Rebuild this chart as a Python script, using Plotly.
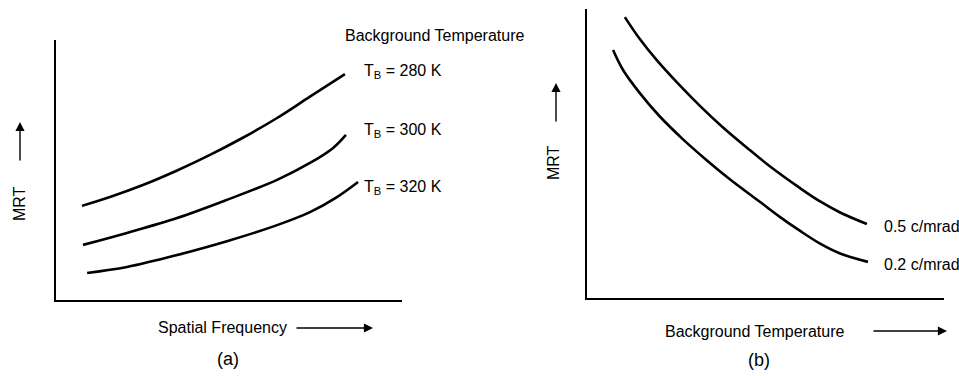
import plotly.graph_objects as go

W, H = 959, 376

# ---------------- data (arbitrary units 0-100) ----------------
# Panel (a): MRT vs spatial frequency for three background temperatures
freq_280 = [7.5, 15.6, 25.1, 35.0, 44.5, 54.0, 63.9, 73.4, 83.5]
mrt_280 = [36.2, 39.6, 44.2, 49.8, 55.8, 62.4, 70.0, 78.2, 86.9]
freq_300 = [7.8, 20.5, 35.0, 49.4, 63.9, 73.4, 80.1, 83.8]
mrt_300 = [21.2, 25.8, 31.5, 38.5, 46.2, 52.7, 58.5, 63.5]
freq_320 = [9.0, 20.5, 35.0, 49.4, 63.9, 73.4, 81.2, 87.3]
mrt_320 = [10.4, 12.7, 17.3, 22.6, 28.8, 33.8, 39.6, 45.4]
series_a_labels = ["T<sub>B</sub> = 280 K", "T<sub>B</sub> = 300 K", "T<sub>B</sub> = 320 K"]

# Panel (b): MRT vs background temperature for two spatial frequencies
temp_05 = [10.6, 14.8, 19.6, 25.2, 31.7, 38.1, 44.8, 51.3, 59.7, 65.3, 70.9, 78.4]
mrt_05 = [97.2, 89.6, 82.2, 74.6, 66.4, 59.0, 52.0, 45.5, 38.0, 33.4, 29.6, 25.6]
temp_02 = [7.3, 10.1, 14.8, 20.4, 26.9, 33.6, 40.1, 48.5, 54.1, 59.7, 65.3, 70.9, 78.7]
mrt_02 = [85.8, 78.9, 70.9, 62.8, 54.9, 47.6, 41.0, 33.2, 28.0, 23.2, 18.8, 15.4, 12.5]
series_b_labels = ["0.5 c/mrad", "0.2 c/mrad"]

FONT = "Liberation Sans, Arial, Helvetica, sans-serif"


def px(x):
    return x / W


def py(y):
    return 1 - y / H


fig = go.Figure()

line_style = dict(color="black", width=2.6, shape="spline", smoothing=1.0)
for xs, ys, name in [(freq_280, mrt_280, series_a_labels[0]),
                     (freq_300, mrt_300, series_a_labels[1]),
                     (freq_320, mrt_320, series_a_labels[2])]:
    fig.add_trace(go.Scatter(x=xs, y=ys, mode="lines", line=line_style,
                             name=name, showlegend=False, hoverinfo="skip",
                             xaxis="x", yaxis="y"))
for xs, ys, name in [(temp_05, mrt_05, series_b_labels[0]),
                     (temp_02, mrt_02, series_b_labels[1])]:
    fig.add_trace(go.Scatter(x=xs, y=ys, mode="lines", line=line_style,
                             name=name, showlegend=False, hoverinfo="skip",
                             xaxis="x2", yaxis="y2"))

axis_common = dict(showline=True, linecolor="black", linewidth=2, showgrid=False,
                   zeroline=False, showticklabels=False, ticks="", fixedrange=True)

fig.update_layout(
    width=W, height=H,
    margin=dict(l=0, r=0, t=0, b=0),
    paper_bgcolor="white", plot_bgcolor="white",
    font=dict(family=FONT, size=16, color="black"),
    xaxis=dict(domain=[px(56), px(402)], range=[0, 100], anchor="y", **axis_common),
    yaxis=dict(domain=[py(300), py(40)], range=[0, 100], anchor="x", **axis_common),
    xaxis2=dict(domain=[px(587), px(944)], range=[0, 100], anchor="y2", **axis_common),
    yaxis2=dict(domain=[py(298), py(9)], range=[0, 100], anchor="x2", **axis_common),
)

ann = []


def text(t, x, y, xanchor="left", size=16, angle=0):
    ann.append(dict(text=t, x=px(x), y=py(y), xref="paper", yref="paper",
                    xanchor=xanchor, yanchor="middle", showarrow=False,
                    textangle=angle, font=dict(size=size, family=FONT, color="black")))


def arrow(hx, hy, tx, ty):
    ann.append(dict(text="", x=px(hx), y=py(hy), xref="paper", yref="paper",
                    ax=tx - hx, ay=ty - hy, axref="pixel", ayref="pixel",
                    showarrow=True, arrowhead=2, arrowsize=1.3, arrowwidth=1.4,
                    arrowcolor="black", standoff=0, startstandoff=0))


# Panel (a)
text("Background Temperature", 343, 36)
text(series_a_labels[0], 362, 72)
text(series_a_labels[1], 362, 130)
text(series_a_labels[2], 362, 187)
text("MRT", 20, 204, xanchor="center", angle=-90)
arrow(20, 122, 20, 162)
text("Spatial Frequency", 222, 327, xanchor="center")
arrow(373, 328, 295, 328)
text("(a)", 228, 359, xanchor="center", size=18)

# Panel (b)
text(series_b_labels[0], 882, 226)
text(series_b_labels[1], 882, 264)
text("MRT", 553, 163, xanchor="center", angle=-90)
arrow(556, 83, 556, 123)
text("Background Temperature", 754, 331, xanchor="center")
arrow(947, 331, 872, 331)
text("(b)", 759, 360, xanchor="center", size=18)

fig.update_layout(annotations=ann)

fig.write_html(
    "out.html",
    config={"displayModeBar": False, "staticPlot": True},
    post_script="document.body.style.margin='0';document.body.style.overflow='hidden';",
)
